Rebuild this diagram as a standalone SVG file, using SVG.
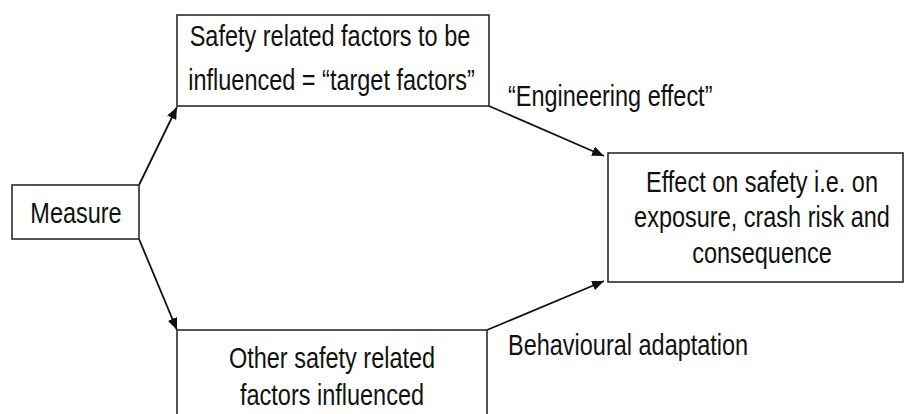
<svg xmlns="http://www.w3.org/2000/svg" width="905" height="414" viewBox="0 0 905 414">
<defs>
<style>
.box{fill:#fff;stroke:#2a2a2a;stroke-width:1.6}
.t{font-family:"Liberation Sans",Arial,sans-serif;font-size:29px;fill:#111}
.m{text-anchor:middle}
.c{stroke:#111;stroke-width:1.8;fill:none;marker-end:url(#ah)}
</style>
<marker id="ah" viewBox="0 0 12 10" refX="12" refY="5" markerWidth="12" markerHeight="10" markerUnits="userSpaceOnUse" orient="auto">
<path d="M0,0 L12,5 L0,10 z" fill="#111"/>
</marker>
</defs>
<rect width="905" height="414" fill="#fff"/>
<g id="connectors">
<line class="c" x1="139" y1="185" x2="177" y2="107"/>
<line class="c" x1="139" y1="239" x2="177" y2="330"/>
<line class="c" x1="489" y1="106" x2="604" y2="156"/>
<line class="c" x1="487" y1="330" x2="604" y2="281"/>
</g>
<g id="measure">
<rect class="box" x="12" y="185" width="127" height="54"/>
<text class="t m" transform="translate(76 223) scale(0.81 1)">Measure</text>
</g>
<g id="target">
<rect class="box" x="177" y="15" width="312" height="91"/>
<text class="t m" transform="translate(330 46) scale(0.81 1)">Safety related factors to be</text>
<text class="t m" transform="translate(331.5 90) scale(0.81 1)">influenced = “target factors”</text>
</g>
<g id="other">
<rect class="box" x="177" y="330" width="310" height="120"/>
<text class="t m" transform="translate(332 368) scale(0.81 1)">Other safety related</text>
<text class="t m" transform="translate(332 405) scale(0.81 1)">factors influenced</text>
</g>
<g id="effect">
<rect class="box" x="608" y="153" width="295" height="129"/>
<text class="t m" transform="translate(762 192) scale(0.81 1)">Effect on safety i.e. on</text>
<text class="t m" transform="translate(762 227) scale(0.81 1)">exposure, crash risk and</text>
<text class="t m" transform="translate(762 263) scale(0.81 1)">consequence</text>
</g>
<g id="labels">
<text class="t" transform="translate(508 106) scale(0.81 1)">“Engineering effect”</text>
<text class="t" transform="translate(508 355) scale(0.81 1)">Behavioural adaptation</text>
</g>
</svg>
